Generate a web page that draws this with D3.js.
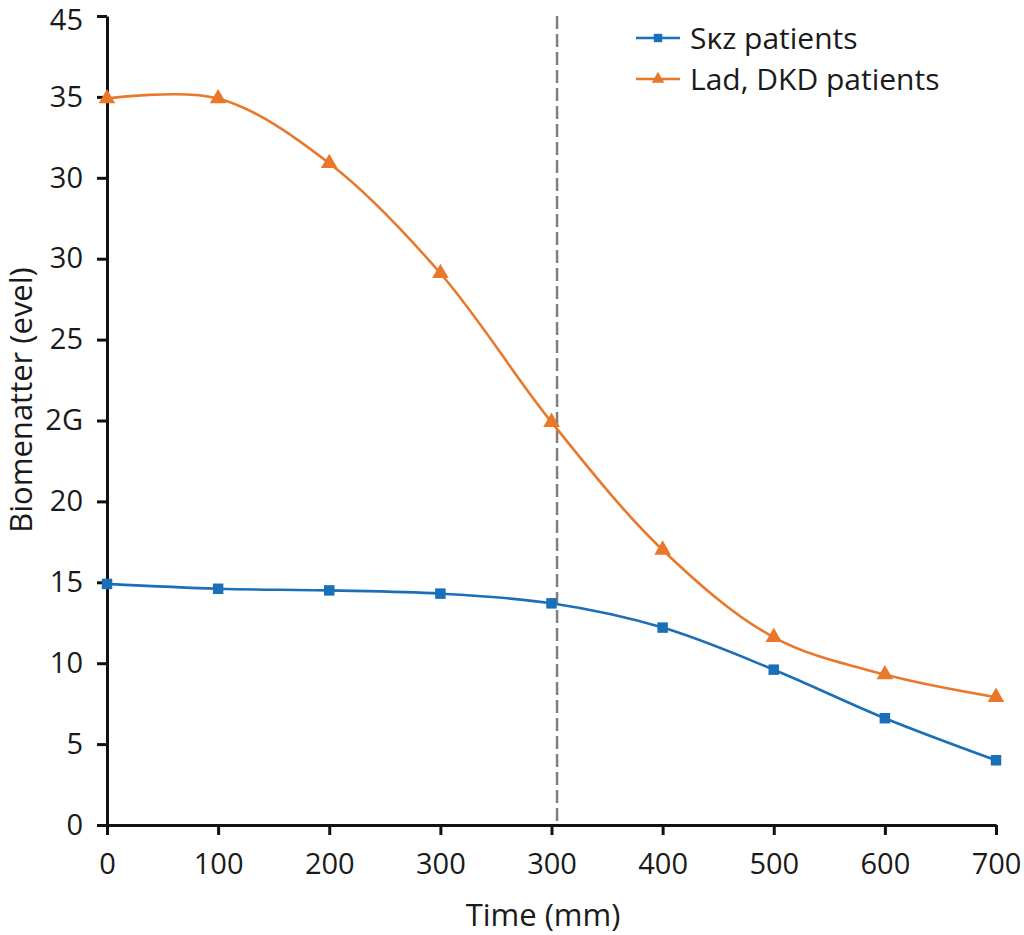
<!DOCTYPE html>
<html>
<head>
<meta charset="utf-8">
<script src="https://cdn.jsdelivr.net/npm/d3@7"></script>
<style>
  body { margin: 0; background: #fff; }
  text { font-family: "Open Sans", "Noto Sans", sans-serif; fill: #1a1a1a; }
</style>
</head>
<body>
<svg id="chart" width="1024" height="935"></svg>
<script>
	// x positions are category slots, labels as printed on the chart
	var xLabels = ["0", "100", "200", "300", "300", "400", "500", "600", "700"];
	var yTicks = [0, 5, 10, 15, 20, 25, 30, 35, 40, 45, 50];
	var yLabels = ["0", "5", "10", "15", "20", "2G", "25", "30", "30", "35", "45"];

	var sxzValues = [14.9, 14.6, 14.5, 14.3, 13.7, 12.2, 9.6, 6.6, 4.0];
	var dkdValues = [44.9, 44.9, 40.9, 34.1, 24.9, 17.0, 11.6, 9.3, 7.9];

	var seriesNames = ["Sκz patients", "Lad, DKD patients"];
	var markerLine = 4.05;

	var svg = d3.select("#chart"),
		plotLeft = 107,
		plotRight = 996,
		plotTop = 16,
		plotBottom = 825,
		blue = "#1b6fb8",
		orange = "#e9782a";

	var x = d3.scaleLinear().domain([0, xLabels.length - 1]).range([plotLeft, plotRight]);
	var y = d3.scaleLinear().domain([0, 50]).range([plotBottom, plotTop]);

	// axes
	var xAxis = d3.axisBottom(x)
		.tickValues(d3.range(xLabels.length))
		.tickFormat(function(d) { return xLabels[d]; })
		.tickSizeInner(10)
		.tickSizeOuter(0)
		.tickPadding(18);

	var yAxis = d3.axisLeft(y)
		.tickValues(yTicks)
		.tickFormat(function(d, i) { return yLabels[i]; })
		.tickSizeInner(10)
		.tickSizeOuter(0)
		.tickPadding(14);

	var gx = svg.append("g").attr("transform", "translate(0," + plotBottom + ")").call(xAxis);
	var gy = svg.append("g").attr("transform", "translate(" + plotLeft + ",0)").call(yAxis);

	[gx, gy].forEach(function(g) {
		g.select(".domain").attr("stroke", "#111").attr("stroke-width", 3);
		g.selectAll(".tick line").attr("stroke", "#111").attr("stroke-width", 3);
		g.selectAll(".tick text")
			.attr("font-family", "'Open Sans', 'Noto Sans', sans-serif")
			.attr("font-size", 29)
			.attr("fill", "#1a1a1a");
	});
	// top label sits a little under its tick, as in the original
	gy.selectAll(".tick text").filter(function(d) { return d === 50; }).attr("y", 4);

	// dashed reference line
	svg.append("line")
		.attr("x1", x(markerLine)).attr("x2", x(markerLine))
		.attr("y1", plotTop).attr("y2", plotBottom)
		.attr("stroke", "#7f7f7f")
		.attr("stroke-width", 2.5)
		.attr("stroke-dasharray", "13,5");

	var line = d3.line()
		.x(function(d, i) { return x(i); })
		.y(function(d) { return y(d); })
		.curve(d3.curveCatmullRom.alpha(0.5));

	function drawSeries(values, color, symbol, size) {
		svg.append("path")
			.datum(values)
			.attr("d", line)
			.attr("fill", "none")
			.attr("stroke", color)
			.attr("stroke-width", 2.6);

		svg.selectAll(null)
			.data(values)
			.enter()
			.append("path")
			.attr("d", d3.symbol().type(symbol).size(size))
			.attr("transform", function(d, i) { return "translate(" + x(i) + "," + y(d) + ")"; })
			.attr("fill", color);
	}

	drawSeries(sxzValues, blue, d3.symbolSquare, 110);
	drawSeries(dkdValues, orange, d3.symbolTriangle, 120);

	// legend
	var legend = svg.append("g").attr("transform", "translate(636,38)");
	[[blue, d3.symbolSquare], [orange, d3.symbolTriangle]].forEach(function(s, i) {
		var g = legend.append("g").attr("transform", "translate(0," + (i * 41) + ")");
		g.append("line").attr("x1", 0).attr("x2", 44)
			.attr("stroke", s[0]).attr("stroke-width", 2.6);
		g.append("path")
			.attr("d", d3.symbol().type(s[1]).size(70))
			.attr("transform", "translate(22,0)")
			.attr("fill", s[0]);
		g.append("text")
			.attr("x", 54).attr("dy", "0.35em")
			.attr("font-size", 30)
			.text(seriesNames[i]);
	});

	// axis titles
	svg.append("text")
		.attr("x", 543)
		.attr("y", 926)
		.attr("text-anchor", "middle")
		.attr("font-size", 31)
		.text("Time (mm)");

	svg.append("text")
		.attr("transform", "translate(32,400) rotate(-90)")
		.attr("text-anchor", "middle")
		.attr("font-size", 31)
		.text("Biomenatter (evel)");
</script>
</body>
</html>
